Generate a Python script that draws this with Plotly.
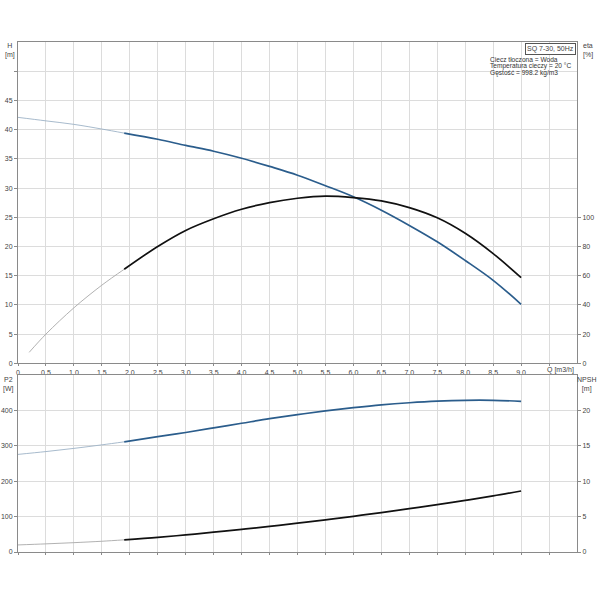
import plotly.graph_objects as go

# ---------------- data ----------------
q_h = [0, 0.5, 1.0, 1.5, 1.9, 2.5, 3.0, 3.5, 4.0, 4.5, 5.0, 5.5, 6.0, 6.5, 7.0, 7.5, 8.0, 8.5, 9.0]
head = [42.1, 41.5, 40.9, 40.1, 39.4, 38.35, 37.3, 36.3, 35.1, 33.7, 32.2, 30.4, 28.5, 26.2, 23.6, 20.8, 17.6, 14.2, 10.1]

q_eta = [0.2, 0.5, 1.0, 1.5, 1.9, 2.5, 3.0, 3.5, 4.0, 4.5, 5.0, 5.5, 6.0, 6.5, 7.0, 7.5, 8.0, 8.5, 9.0]
eta = [7.5, 20, 38, 53.5, 64.4, 80, 91, 99, 105.5, 110, 113, 114.5, 113.5, 111.2, 106.6, 99.6, 89.0, 75.1, 58.7]

q_p = [0, 0.5, 1.0, 1.5, 1.9, 2.5, 3.0, 3.5, 4.0, 4.5, 5.0, 5.5, 6.0, 6.5, 7.0, 7.5, 8.0, 8.5, 9.0]
p2 = [276, 284, 293, 303, 311.5, 326, 338, 351, 364, 377, 388.5, 399, 408, 416, 422, 426.5, 429, 429, 426]
npsh = [1.0, 1.15, 1.32, 1.52, 1.72, 2.07, 2.42, 2.8, 3.2, 3.62, 4.07, 4.55, 5.05, 5.58, 6.13, 6.7, 7.3, 7.93, 8.63]

split_q = 1.9  # start of the recommended (thick) range

x_ticks = [i * 0.5 for i in range(20)]
x_labels = ["0"] + [f"{v:.1f}" for v in x_ticks[1:19]] + [""]
h_ticks = [0, 5, 10, 15, 20, 25, 30, 35, 40, 45, 50]
h_labels = [str(v) for v in h_ticks[:-1]] + [""]
eta_ticks = [0, 20, 40, 60, 80, 100]
p2_ticks = [0, 100, 200, 300, 400]
npsh_ticks = [0, 5, 10, 15, 20]

info_title = "SQ 7-30, 50Hz"
info_lines = ["Ciecz tłoczona = Woda", "Temperatura cieczy = 20 °C", "Gęstość = 998.2 kg/m3"]

# ---------------- helpers ----------------
BLUE = "#2b5d8c"
BLUE_THIN = "#9db2c6"
BLACK = "#111111"
GRAY_THIN = "#a8a8a8"


def split(qs, vs):
    thin_q, thin_v, thick_q, thick_v = [], [], [], []
    for q, v in zip(qs, vs):
        if q <= split_q:
            thin_q.append(q); thin_v.append(v)
        if q >= split_q:
            thick_q.append(q); thick_v.append(v)
    return thin_q, thin_v, thick_q, thick_v


fig = go.Figure()


def add_curve(qs, vs, xa, ya, col_thin, col_thick):
    tq, tv, kq, kv = split(qs, vs)
    fig.add_trace(go.Scatter(x=tq, y=tv, xaxis=xa, yaxis=ya, mode="lines",
                             line=dict(color=col_thin, width=0.9, shape="spline"),
                             showlegend=False, hoverinfo="skip"))
    fig.add_trace(go.Scatter(x=kq, y=kv, xaxis=xa, yaxis=ya, mode="lines",
                             line=dict(color=col_thick, width=1.7, shape="spline"),
                             showlegend=False, hoverinfo="skip"))


add_curve(q_h, head, "x", "y", BLUE_THIN, BLUE)
add_curve(q_eta, eta, "x", "y2", GRAY_THIN, BLACK)
add_curve(q_p, p2, "x2", "y3", BLUE_THIN, BLUE)
add_curve(q_p, npsh, "x2", "y4", GRAY_THIN, BLACK)

FONT = dict(family="Liberation Sans, Arial, sans-serif", size=7, color="#444")
INFO_FONT = dict(family="Liberation Sans, Arial, sans-serif", size=6.6, color="#333")
LINE = "#8a8a8a"
GRID = "#dcdcdc"

ML, MR, MT, MB = 18, 23, 42, 48
top_dom = [0.370, 1.0]
bot_dom = [0.0, 0.3467]

common_x = dict(range=[0, 10], tickmode="array", tickvals=x_ticks, showgrid=True,
                gridcolor=GRID, gridwidth=1, showline=True, linecolor=LINE, linewidth=1,
                mirror=True, zeroline=False, ticks="outside", ticklen=2, tickcolor=LINE,
                tickfont=FONT, fixedrange=True, automargin=False)

common_y = dict(tickmode="array", showline=True, linecolor=LINE, ticks="outside", ticklen=3,
                tickcolor=LINE, zeroline=False, tickfont=FONT, automargin=False, fixedrange=True)

fig.update_layout(
    width=600, height=600,
    margin=dict(l=ML, r=MR, t=MT, b=MB, autoexpand=False),
    paper_bgcolor="white", plot_bgcolor="white",
    font=FONT,
    xaxis=dict(**common_x, domain=[0, 1], anchor="y", ticktext=x_labels),
    xaxis2=dict(**common_x, domain=[0, 1], anchor="y3", showticklabels=False),
    yaxis=dict(**common_y, domain=top_dom, range=[0, 55], anchor="x",
               tickvals=h_ticks, ticktext=h_labels, showgrid=True, gridcolor=GRID),
    yaxis2=dict(**common_y, range=[0, 220], overlaying="y", side="right", anchor="x",
                tickvals=eta_ticks, showgrid=False),
    yaxis3=dict(**common_y, domain=bot_dom, range=[0, 500], anchor="x2",
                tickvals=p2_ticks, showgrid=True, gridcolor=GRID),
    yaxis4=dict(**common_y, range=[0, 25], overlaying="y3", side="right", anchor="x2",
                tickvals=npsh_ticks, showgrid=False),
)

W, H = 600.0, 600.0
PW, PH = W - ML - MR, H - MT - MB


def px(xp, yp):
    return (xp - ML) / PW, ((H - MB) - yp) / PH


annos = []


def add_text(text, xp, yp, xanchor="center", yanchor="middle", align="center", font=FONT, **kw):
    x, y = px(xp, yp)
    annos.append(dict(text=text, x=x, y=y, xref="paper", yref="paper", showarrow=False,
                      xanchor=xanchor, yanchor=yanchor, align=align, font=font, **kw))


add_text("H<br>[m]", 10, 50)
add_text("eta<br>[%]", 581, 50, xanchor="left", align="left")
add_text("P2<br>[W]", 8.5, 384)
add_text("NPSH<br>[m]", 587, 384)
add_text("Q [m3/h]", 560, 370)
add_text(info_title, 575.5, 42.5, xanchor="right", yanchor="top",
         bordercolor="#555", borderwidth=1, borderpad=1, bgcolor="white")
for i, line in enumerate(info_lines):
    add_text(line, 488, 59 + i * 7.2, xanchor="left", align="left", font=INFO_FONT)

fig.update_layout(annotations=annos)

fig.write_html(
    "out.html",
    config={"displayModeBar": False},
    post_script="document.body.style.margin='0';document.body.style.padding='0';"
                "document.body.style.overflow='hidden';",
)
